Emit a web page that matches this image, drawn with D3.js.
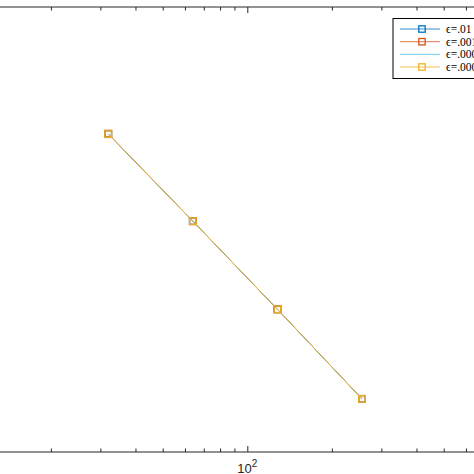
<!DOCTYPE html>
<html>
<head>
<meta charset="utf-8">
<script src="https://cdn.jsdelivr.net/npm/d3@7"></script>
<style>
html,body{margin:0;padding:0;background:#fff;overflow:hidden;}
svg{display:block;}
</style>
</head>
<body>
<script>
// ---- data ----
const nValues = [32, 64, 128, 256];
const seriesNames = ["\u03F5=.01", "\u03F5=.001", "\u03F5=.0001", "\u03F5=.00001"];
const seriesColors = ["#0072BD", "#D95319", "#4DBEEE", "#EDB120"];
const seriesMarkers = [true, true, false, true];
const errEps1 = [1.39e-4, 3.60e-5, 9.16e-6, 2.28e-6];
const errEps2 = [1.40e-4, 3.60e-5, 9.16e-6, 2.28e-6];
const errEps3 = [1.39e-4, 3.60e-5, 9.16e-6, 2.28e-6];
const errEps4 = [1.39e-4, 3.60e-5, 9.16e-6, 2.28e-6];
const xMinorTicks = [20,30,40,50,60,70,80,90,200,300,400,500,600,700,800,900];
const xMajorTicks = [10, 100, 1000];
const xDomain = [10, 1000];
const yDomain = [1e-6, 1e-3];

const series = [errEps1, errEps2, errEps3, errEps4];

(function () {
const W = 474, H = 474;
const svg = d3.select("body").append("svg").attr("width", W).attr("height", H);

// plot box (extends beyond left/right of the cropped view)
const yTop = 7, yBottom = 452;
const x = d3.scaleLog().domain(xDomain).range([-33.7, 528.3]);
const y = d3.scaleLog().domain(yDomain).range([yBottom, yTop]);

const axisColor = "#262626";

function drawAxis(g, isTop) {
  const mk = isTop ? d3.axisTop : d3.axisBottom;
  g.append("g").call(mk(x).tickValues(xMinorTicks).tickSize(-3.5).tickSizeOuter(0).tickFormat(""));
  g.append("g").call(mk(x).tickValues(xMajorTicks).tickSize(-6).tickSizeOuter(0).tickFormat(""));
  g.selectAll("path.domain").attr("stroke", "none");
  g.selectAll(".tick line").attr("stroke", axisColor).attr("stroke-width", 1);
}
drawAxis(svg.append("g").attr("transform", `translate(0,${yTop})`), true);
drawAxis(svg.append("g").attr("transform", `translate(0,${yBottom})`), false);
svg.append("line").attr("x1", 0).attr("x2", W).attr("y1", yTop).attr("y2", yTop)
  .attr("stroke", axisColor).attr("stroke-width", 1.2);
svg.append("line").attr("x1", 0).attr("x2", W).attr("y1", yBottom).attr("y2", yBottom)
  .attr("stroke", axisColor).attr("stroke-width", 1.2);

// major tick labels (10^1 and 10^3 fall outside the cropped view)
xMajorTicks.forEach(v => {
  const t = svg.append("text")
    .attr("x", x(v)).attr("y", yBottom + 20.5)
    .attr("text-anchor", "middle")
    .attr("font-family", "Liberation Sans, Arial, sans-serif")
    .attr("font-size", 13).attr("fill", axisColor);
  t.append("tspan").text("10");
  t.append("tspan").attr("dy", -6).attr("font-size", 10).text(String(Math.round(Math.log10(v))));
});

// series
const line = d3.line().x((d, i) => x(nValues[i])).y(d => y(d));
series.forEach((vals, si) => {
  const g = svg.append("g");
  g.append("path").datum(vals).attr("d", line)
    .attr("fill", "none").attr("stroke", seriesColors[si])
    .attr("stroke-width", si === series.length - 1 ? 0.9 : 0.6);
  if (seriesMarkers[si]) {
    g.selectAll("rect").data(vals).enter().append("rect")
      .attr("x", (d, i) => x(nValues[i]) - 3.3)
      .attr("y", d => y(d) - 3.3)
      .attr("width", 6.6).attr("height", 6.6)
      .attr("fill", "none").attr("stroke", seriesColors[si]).attr("stroke-width", 1.3);
  }
});

// legend
const lg = svg.append("g");
lg.append("rect").attr("x", 393).attr("y", 18.5).attr("width", 120).attr("height", 60)
  .attr("fill", "#fff").attr("stroke", "#000").attr("stroke-width", 1);
const rowY = [29, 41.7, 54.3, 67];
seriesNames.forEach((name, i) => {
  const yy = rowY[i];
  lg.append("line").attr("x1", 400).attr("x2", 440).attr("y1", yy).attr("y2", yy)
    .attr("stroke", seriesColors[i]).attr("stroke-width", 0.8);
  if (seriesMarkers[i]) {
    lg.append("rect").attr("x", 422 - 3.2).attr("y", yy - 3.2).attr("width", 6.4).attr("height", 6.4)
      .attr("fill", "none").attr("stroke", seriesColors[i]).attr("stroke-width", 1.3);
  }
  lg.append("text").attr("x", 446).attr("y", yy + 4)
    .attr("font-family", "Liberation Serif, Times New Roman, serif")
    .attr("font-size", 11.5).attr("fill", "#000").text(name);
});
})();
</script>
</body>
</html>
